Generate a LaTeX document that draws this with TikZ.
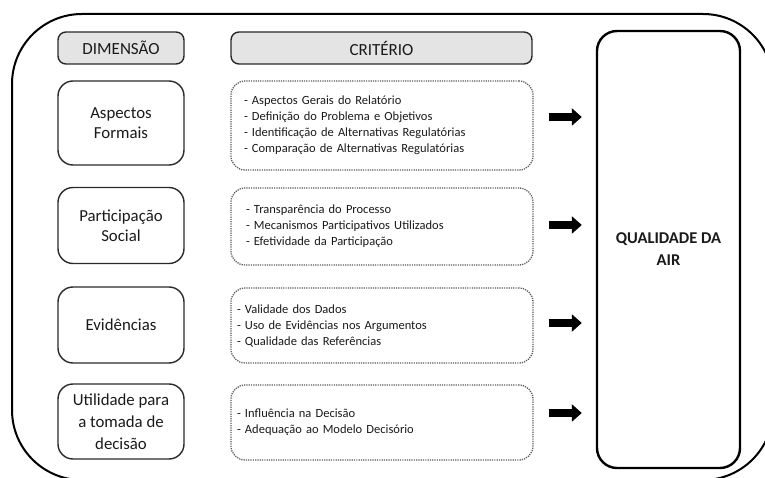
\documentclass[tikz,border=0pt]{standalone}
\usepackage{fontspec}
\setmainfont{Carlito}
\usetikzlibrary{arrows.meta}
\definecolor{txt}{HTML}{1A1A1A}
\definecolor{hdrfill}{HTML}{E4E4E4}
\definecolor{edge}{HTML}{2A2A2A}
\definecolor{dotc}{HTML}{5A5A5A}
\tikzset{
  hdr/.style={draw=edge, line width=1.4pt, fill=hdrfill, rounded corners=8pt,
    minimum height=32pt, inner sep=0pt, text=txt, font=\fontsize{17}{19}\selectfont},
  dimbox/.style={draw=edge, line width=1.4pt, rounded corners=15pt, minimum width=126pt,
    inner sep=0pt, text=txt, align=center, font=\fontsize{16.8}{20}\selectfont},
  critbox/.style={draw=dotc, line width=1.3pt, dash pattern=on 1.2pt off 1.1pt,
    rounded corners=14pt, minimum width=302pt, inner ysep=0pt, align=left,
    text=txt, font=\fontsize{12.5}{16}\selectfont},
  qabox/.style={draw=black, line width=2.4pt, rounded corners=20pt, minimum width=143pt,
    minimum height=437pt, inner sep=0pt, align=center, text=txt,
    font=\bfseries\fontsize{16.5}{22}\selectfont},
  bigarrow/.style={line width=8pt, -{Triangle[length=10pt,width=17pt]}, black}
}
\begin{document}
\begin{tikzpicture}[x=1pt,y=1pt]
\useasboundingbox (0,0) rectangle (765,477);
\fill[white] (0,0) rectangle (765,477);
% outer frame
\draw[line width=2pt, rounded corners=70pt] (12,463) rectangle (773,-3);
% headers
\node[hdr, minimum width=126pt] (hdim) at (121,429) {DIMENSÃO};
\node[hdr, minimum width=301pt] (hcrit) at (381.5,429) {CRITÉRIO};
% dimension boxes
\node[dimbox, minimum height=84pt] (d1) at (121,354) {Aspectos\\Formais};
\node[dimbox, minimum height=76pt] (d2) at (121,251.5) {Participação\\Social};
\node[dimbox, minimum height=76pt] (d3) at (121,152) {Evidências};
\node[dimbox, minimum height=75pt, font=\fontsize{16.8}{22}\selectfont] (d4) at (121,55.5) {Utilidade para\\a tomada de\\decisão};
% criteria boxes
\node[critbox, minimum height=89pt, inner xsep=13pt, text width=276pt] (c1) at (382,351.5)
  {- Aspectos Gerais do Relatório\\- Definição do Problema e Objetivos\\- Identificação de Alternativas Regulatórias\\- Comparação de Alternativas Regulatórias};
\node[critbox, minimum height=77pt, inner xsep=15pt, text width=272pt] (c2) at (382,250.5)
  {- Transparência do Processo\\- Mecanismos Participativos Utilizados\\- Efetividade da Participação};
\node[critbox, minimum height=75pt, inner xsep=6pt, text width=290pt] (c3) at (382,151.5)
  {- Validade dos Dados\\- Uso de Evidências nos Argumentos\\- Qualidade das Referências};
\node[critbox, minimum height=75pt, inner xsep=6pt, text width=290pt] (c4) at (382,54.5)
  {- Influência na Decisão\\- Adequação ao Modelo Decisório};
% result box
\node[qabox] (qa) at (668.5,227.5) {QUALIDADE DA\\AIR};
% arrows
\coordinate (y1) at (0,360);
\coordinate (y2) at (0,252);
\coordinate (y3) at (0,154);
\coordinate (y4) at (0,64);
\draw[bigarrow, shorten <=15pt, shorten >=14pt] (c1.east |- y1) -- (qa.west |- y1);
\draw[bigarrow, shorten <=15pt, shorten >=14pt] (c2.east |- y2) -- (qa.west |- y2);
\draw[bigarrow, shorten <=15pt, shorten >=14pt] (c3.east |- y3) -- (qa.west |- y3);
\draw[bigarrow, shorten <=15pt, shorten >=14pt] (c4.east |- y4) -- (qa.west |- y4);
\end{tikzpicture}
\end{document}
